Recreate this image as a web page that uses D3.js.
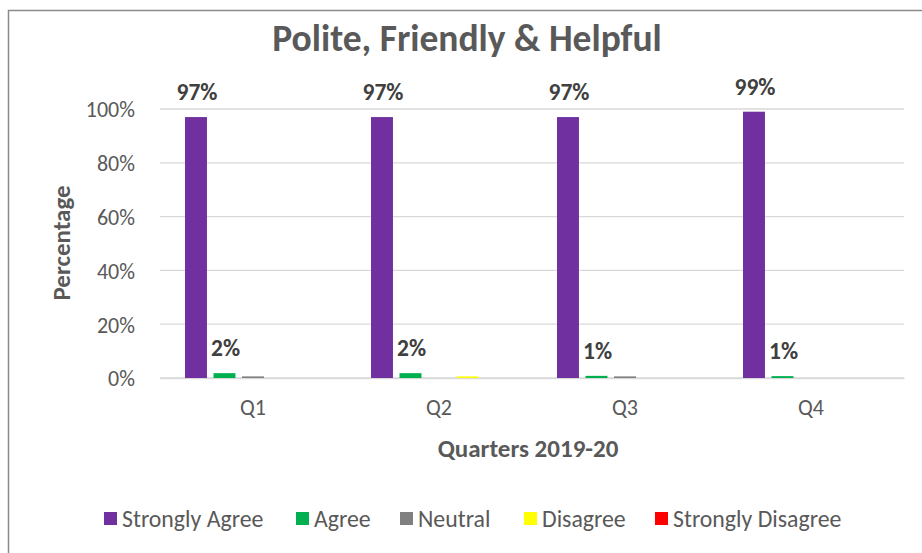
<!DOCTYPE html>
<html><head><meta charset="utf-8">
<script src="https://cdn.jsdelivr.net/npm/d3@7"></script>
<style>
body{margin:0;background:#fff;}
text{font-family:Carlito,Lato,"Open Sans",sans-serif;}
</style></head>
<body><svg id="c" width="922" height="553"></svg>
<script>
const categories = ["Q1","Q2","Q3","Q4"];
const seriesNames = ["Strongly Agree","Agree","Neutral","Disagree","Strongly Disagree"];
const stronglyAgree = [97,97,97,99];
const agree = [1.8,1.8,0.8,0.7];
const neutral = [0.6,0,0.6,0];
const disagree = [0,0.6,0,0];
const stronglyDisagree = [0,0,0,0];
const yTicks = [0,20,40,60,80,100];
const colors = ["#7030A0","#00B050","#808080","#FFFF00","#FF0000"];
const labelled = [true,true,false,false,false];

const values = [stronglyAgree, agree, neutral, disagree, stronglyDisagree];
const svg = d3.select("#c");
const W=922,H=553;
svg.append("rect").attr("x",8.5).attr("y",10.5).attr("width",W).attr("height",H).attr("fill","#fff").attr("stroke","#8a8a8a").attr("stroke-width",1.5);

const x0 = d3.scaleBand().domain(categories).range([160,904]).paddingInner(0.269).paddingOuter(0.1345);
const x1 = d3.scaleBand().domain(seriesNames).range([0,x0.bandwidth()]).paddingInner(0.23).paddingOuter(0);
const y = d3.scaleLinear().domain([0,100]).range([378,109]);

// gridlines
svg.append("g").selectAll("line").data(yTicks).join("line")
 .attr("x1",160).attr("x2",904).attr("y1",d=>y(d)).attr("y2",d=>y(d))
 .attr("stroke","#d9d9d9").attr("stroke-width",1.3);

// y axis
const ya = svg.append("g").attr("transform","translate(160,0)")
 .call(d3.axisLeft(y).tickValues(yTicks).tickFormat(d=>d+"%").tickSize(0).tickPadding(25));
ya.select(".domain").remove();
ya.selectAll("text").attr("font-size",22).attr("fill","#595959").attr("font-family","Carlito,Lato,sans-serif").attr("dy","0.36em");

// x axis
const xa = svg.append("g").attr("transform","translate(0,378)")
 .call(d3.axisBottom(x0).tickSize(0).tickPadding(0));
xa.select(".domain").attr("stroke","#d9d9d9").attr("stroke-width",1.3);
xa.selectAll("text").attr("font-size",22).attr("fill","#595959").attr("font-family","Carlito,Lato,sans-serif").attr("dy",null).attr("y",37);

// bars
const groups = svg.append("g").selectAll("g").data(categories).join("g")
 .attr("transform",d=>`translate(${x0(d)},0)`);
groups.selectAll("rect").data((c,i)=>seriesNames.map((s,j)=>({s,j,v:values[j][i]}))).join("rect")
 .attr("x",d=>x1(d.s)).attr("width",x1.bandwidth())
 .attr("y",d=>y(d.v)).attr("height",d=>y(0)-y(d.v))
 .attr("fill",d=>colors[d.j]);
groups.selectAll("text.lbl").data((c,i)=>seriesNames.map((s,j)=>({s,j,v:values[j][i]})).filter(d=>labelled[d.j])).join("text")
 .attr("class","lbl")
 .attr("x",d=>x1(d.s)+x1.bandwidth()/2+1)
 .attr("y",d=>y(d.v)-17)
 .attr("text-anchor","middle").attr("font-size",23.5).attr("font-weight","bold").attr("fill","#404040")
 .text(d=>Math.round(d.v)+"%");

// titles
svg.append("text").attr("x",467).attr("y",51).attr("text-anchor","middle").attr("font-size",37.5).attr("font-weight","bold").attr("fill","#595959").text("Polite, Friendly & Helpful");
svg.append("text").attr("transform","translate(70,243) rotate(-90)").attr("text-anchor","middle").attr("font-size",25).attr("font-weight","bold").attr("fill","#595959").text("Percentage");
svg.append("text").attr("x",528).attr("y",457).attr("text-anchor","middle").attr("font-size",25).attr("font-weight","bold").attr("fill","#595959").text("Quarters 2019-20");

// legend
const legX = [104,296,400,524,655];
const lg = svg.append("g").selectAll("g").data(seriesNames).join("g").attr("transform",(d,i)=>`translate(${legX[i]},512)`);
lg.append("rect").attr("width",13).attr("height",13).attr("fill",(d,i)=>colors[i]);
lg.append("text").attr("x",18).attr("y",7).attr("dy","0.35em").attr("font-size",23.8).attr("fill","#595959").text(d=>d);
</script></body></html>
